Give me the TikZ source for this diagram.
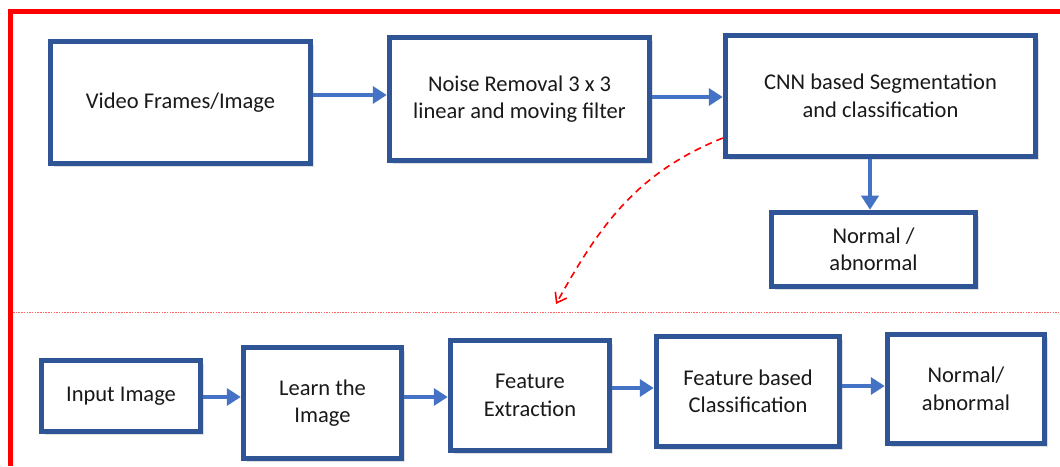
\documentclass[tikz,border=0pt]{standalone}
\usepackage{fontspec}
\setmainfont{Carlito}
\usetikzlibrary{arrows.meta,shadows}

\definecolor{boxblue}{HTML}{2F5597}
\definecolor{flowblue}{HTML}{4472C4}

\tikzset{
  box/.style={draw=boxblue, line width=5.5pt, fill=white, align=center,
    inner sep=2pt, text=black!90, font=\fontsize{22.5}{27.5}\selectfont,
    drop shadow={shadow xshift=3.5pt, shadow yshift=-3.5pt, opacity=0.25}},
  flow/.style={draw=flowblue, line width=4.5pt, -{Triangle[length=14pt,width=17pt]}},
}

\begin{document}
\begin{tikzpicture}[x=1pt,y=1pt]
\useasboundingbox (0,0) rectangle (1060,466);

% frame and separator
\draw[red, line width=5pt] (10,0) -- (10,454) -- (1060,454);
\draw[red!60, line width=0.8pt, dash pattern=on 1.5pt off 1.2pt] (13,154) -- (1060,154);

% top row
\node[box, minimum width=260pt, minimum height=122pt] (vid) at (180.5,363.5) {Video Frames/Image};
\node[box, minimum width=260pt, minimum height=123pt] (noi) at (519.5,367) {Noise Removal 3 x 3\\linear and moving filter};
\node[box, minimum width=310pt, minimum height=121pt] (cnn) at (880.5,370) {CNN based Segmentation\\and classification};
\node[box, minimum width=204pt, minimum height=74pt] (out) at (873.5,216.5) {Normal /\\abnormal};

\draw[flow] ([yshift=7.5pt]vid.east) -- ([yshift=7.5pt]vid.east -| noi.west);
\draw[flow] ([yshift=2pt]noi.east) -- ([yshift=2pt]noi.east -| cnn.west);
\draw[flow] ([xshift=-10.5pt]cnn.south) -- ([xshift=-10.5pt]cnn.south |- out.north);

% link to the detail row
\coordinate (drop) at (556,162);
\draw[red, line width=1.6pt, dash pattern=on 7pt off 5pt,
  -{Straight Barb[length=9pt,width=13pt]}] ([yshift=-42pt]cnn.west) to[out=202, in=61] (drop);

% bottom row
\node[box, minimum width=159pt, minimum height=71pt] (inp) at (121,70) {Input Image};
\node[box, minimum width=158pt, minimum height=111pt] (lrn) at (322.5,63) {Learn the\\Image};
\node[box, minimum width=159pt, minimum height=110pt] (fex) at (530,70.5) {Feature\\Extraction};
\node[box, minimum width=183pt, minimum height=110pt] (fcl) at (748,74.5) {Feature based\\Classification};
\node[box, minimum width=157pt, minimum height=109pt] (res) at (966,77) {Normal/\\abnormal};

\draw[flow] ([yshift=-1pt]inp.east) -- ([yshift=-1pt]inp.east -| lrn.west);
\draw[flow] ([yshift=6pt]lrn.east) -- ([yshift=6pt]lrn.east -| fex.west);
\draw[flow] ([yshift=7.5pt]fex.east) -- ([yshift=7.5pt]fex.east -| fcl.west);
\draw[flow] ([yshift=5.5pt]fcl.east) -- ([yshift=5.5pt]fcl.east -| res.west);
\end{tikzpicture}
\end{document}
